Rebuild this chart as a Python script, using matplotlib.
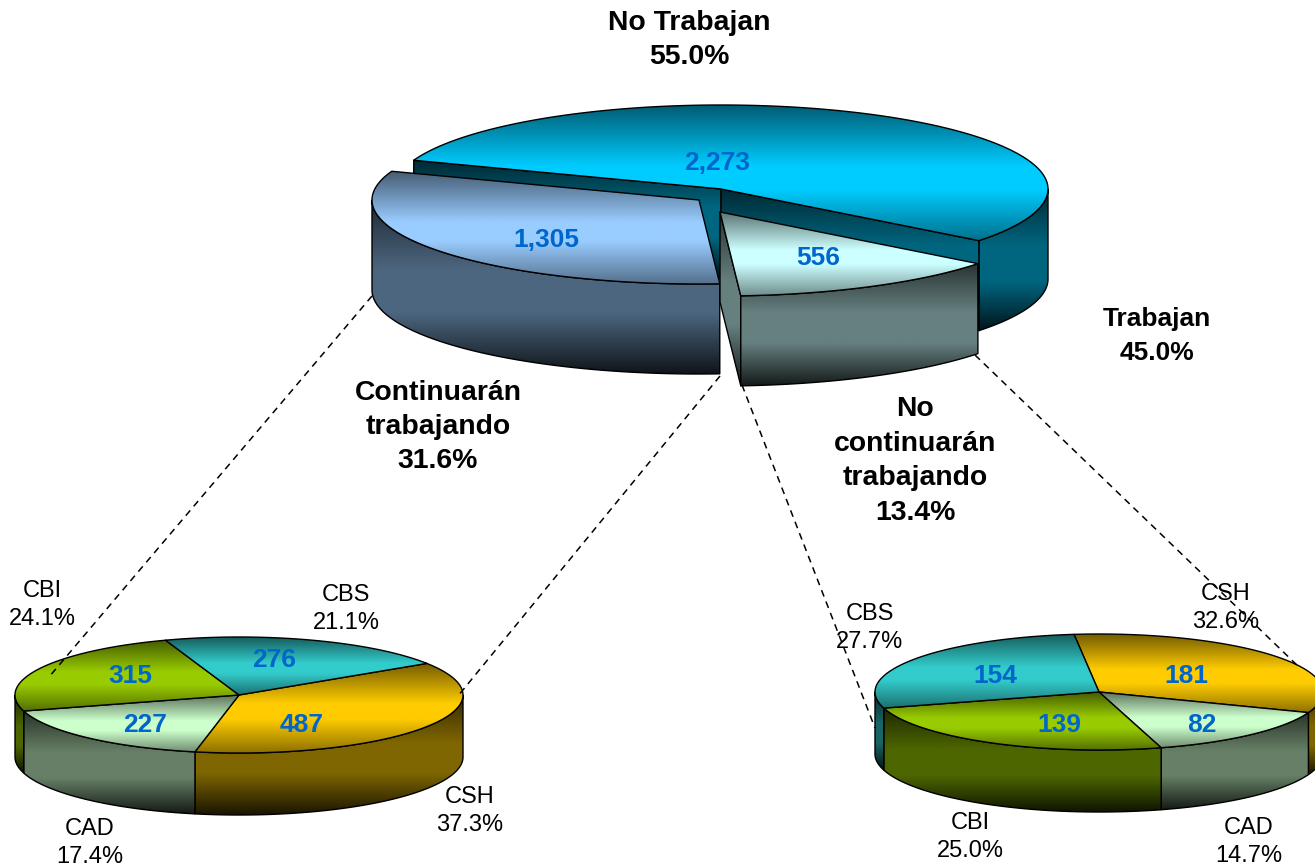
import numpy as np
import matplotlib
matplotlib.use("Agg")
import matplotlib.pyplot as plt
from matplotlib.patches import Polygon

plt.rcParams['font.family'] = ['Liberation Sans', 'DejaVu Sans']

# Data, each list runs clockwise round its pie
main_names = ["No Trabajan", "No\ncontinuarán\ntrabajando", "Continuarán\ntrabajando"]
main_values = [2273, 556, 1305]
main_colors = ["#00CCFF", "#CCFFFF", "#99CCFF"]

left_names = ["CSH", "CAD", "CBI", "CBS"]
left_values = [487, 227, 315, 276]
left_colors = ["#FFCC00", "#CCFFCC", "#99CC00", "#33CCCC"]

right_names = ["CSH", "CAD", "CBI", "CBS"]
right_values = [181, 82, 139, 154]
right_colors = ["#FFCC00", "#CCFFCC", "#99CC00", "#33CCCC"]

top_stops = ([0, 0.45, 0.62, 1], [0.45, 1, 1, 0.55])
side_stops = ([0, 0.4, 0.65, 1], [0.2, 0.5, 0.5, 0.1])

fig = plt.figure(figsize=(13.15, 8.68), dpi=100)
ax = fig.add_axes([0, 0, 1, 1])


def shade(pts, color, stops):
    # polygon filled with a vertical gradient, outlined in black
    pts = np.array(pts)
    base = np.array(matplotlib.colors.to_rgb(color))
    t = np.linspace(0, 1, 256)
    grad = np.clip(np.outer(np.interp(t, stops[0], stops[1]), base), 0, 1)
    poly = Polygon(pts, closed=True, facecolor='none', edgecolor='black', lw=1.0, joinstyle='round', zorder=1)
    # same zorder as the outlines, so later faces cover earlier ones
    im = ax.imshow(grad[:, None, :], extent=(pts[:, 0].min(), pts[:, 0].max(), pts[:, 1].max(), pts[:, 1].min()),
                   aspect='auto', interpolation='bilinear', zorder=1)
    ax.add_patch(poly)
    im.set_clip_path(poly)


def rim(cx, cy, rx, ry, a):
    a = np.radians(a)
    return np.column_stack([cx + rx * np.cos(a), cy - ry * np.sin(a)])


def slice_angles(values, start):
    # clockwise from start, each slice takes its share of the circle
    sweep = np.array(values) / sum(values) * 360
    edges = start - np.concatenate([[0], np.cumsum(sweep)])
    return edges[:-1], edges[1:]


def outer_side(cx, cy, rx, ry, depth, a1, a2, color):
    a = np.linspace(a1, a2, 300)
    a = a[np.sin(np.radians(a)) <= 0]
    if len(a) < 2:
        return
    arc = rim(cx, cy, rx, ry, a)
    shade(np.vstack([arc, arc[::-1] + [0, depth]]), color, side_stops)


def top_face(cx, cy, rx, ry, a1, a2, color):
    arc = rim(cx, cy, rx, ry, np.linspace(a1, a2, 300))
    shade(np.vstack([[cx, cy], arc]), color, top_stops)


def small_pie(cx, cy, values, colors, start):
    rx, ry, depth = 224, 58, 62
    a1, a2 = slice_angles(values, start)
    for i in range(len(values)):
        outer_side(cx, cy, rx, ry, depth, a1[i], a2[i], colors[i])
    for i in range(len(values)):
        top_face(cx, cy, rx, ry, a1[i], a2[i], colors[i])


# main pie, with the lower two slices pulled out
rx, ry, depth = 327, 84, 90
a1, a2 = slice_angles(main_values, 160)

# No Trabajan
cx, cy = 721, 189
tips = rim(cx, cy, rx, ry, [a1[0], a2[0]])
outer_side(cx, cy, rx, ry, depth, a1[0], a2[0], main_colors[0])
for tip in tips:
    shade([[cx, cy], tip, tip + [0, depth], [cx, cy + depth]], main_colors[0], side_stops)
top_face(cx, cy, rx, ry, a1[0], a2[0], main_colors[0])

# Continuarán trabajando
cx, cy = 699, 200
outer_side(cx, cy, rx, ry, depth, a1[2], a2[2], main_colors[2])
top_face(cx, cy, rx, ry, a1[2], a2[2], main_colors[2])

# No continuarán trabajando
cx, cy = 720, 212
tip = rim(cx, cy, rx, ry, [a2[1]])[0]
shade([[cx, cy], tip, tip + [0, depth], [cx, cy + depth]], main_colors[1], side_stops)
outer_side(cx, cy, rx, ry, depth, a1[1], a2[1], main_colors[1])
top_face(cx, cy, rx, ry, a1[1], a2[1], main_colors[1])

small_pie(239, 695, left_values, left_colors, 33)
small_pie(1099, 692, right_values, right_colors, 96.4)

# dashed connectors
for x, y in [((372, 49), (296, 677)), ((720, 458), (376, 696)), ((742, 875), (385, 728)), ((975, 1300), (355, 668))]:
    ax.plot(x, y, color='black', lw=1.1, ls=(0, (4.5, 3.5)), zorder=5)

# value labels
blue = "#0066CC"
value_pos = [(717, 163), (818, 258), (546, 240)]
for v, (x, y) in zip(main_values, value_pos):
    ax.text(x, y, f"{v:,}", color=blue, fontsize=19, fontweight='bold', ha='center', va='center', zorder=6)
for vals, pos in [(left_values, [(302, 725), (145, 725), (130, 676), (274, 660)]),
                  (right_values, [(1186, 676), (1202, 725), (1059, 725), (995, 676)])]:
    for v, (x, y) in zip(vals, pos):
        ax.text(x, y, f"{v:,}", color=blue, fontsize=19, fontweight='bold', ha='center', va='center', zorder=6)

# names and shares
total = sum(main_values)
name_pos = [(689, 40), (915, 461), (438, 427)]
for n, v, (x, y) in zip(main_names, main_values, name_pos):
    ax.text(x, y, f"{n}\n{v / total * 100:.1f}%", color='black', fontsize=20.4, fontweight='bold',
            ha='center', va='center', linespacing=1.42, zorder=6)
ax.text(1157, 336, f"Trabajan\n{(main_values[1] + main_values[2]) / total * 100:.1f}%", color='black', fontsize=19,
        fontweight='bold', ha='center', va='center', linespacing=1.5, zorder=6)

for names, vals, pos in [(left_names, left_values, [(470, 811), (90, 843), (42, 605), (346, 609)]),
                         (right_names, right_values, [(1226, 608), (1249, 842), (970, 837), (870, 628)])]:
    for n, v, (x, y) in zip(names, vals, pos):
        ax.text(x, y, f"{n}\n{v / sum(vals) * 100:.1f}%", color='black', fontsize=17, ha='center', va='center',
                linespacing=1.35, zorder=6)

ax.set_xlim(0, 1315)
ax.set_ylim(868, 0)
ax.axis('off')

fig.savefig("out.png", dpi=100)
